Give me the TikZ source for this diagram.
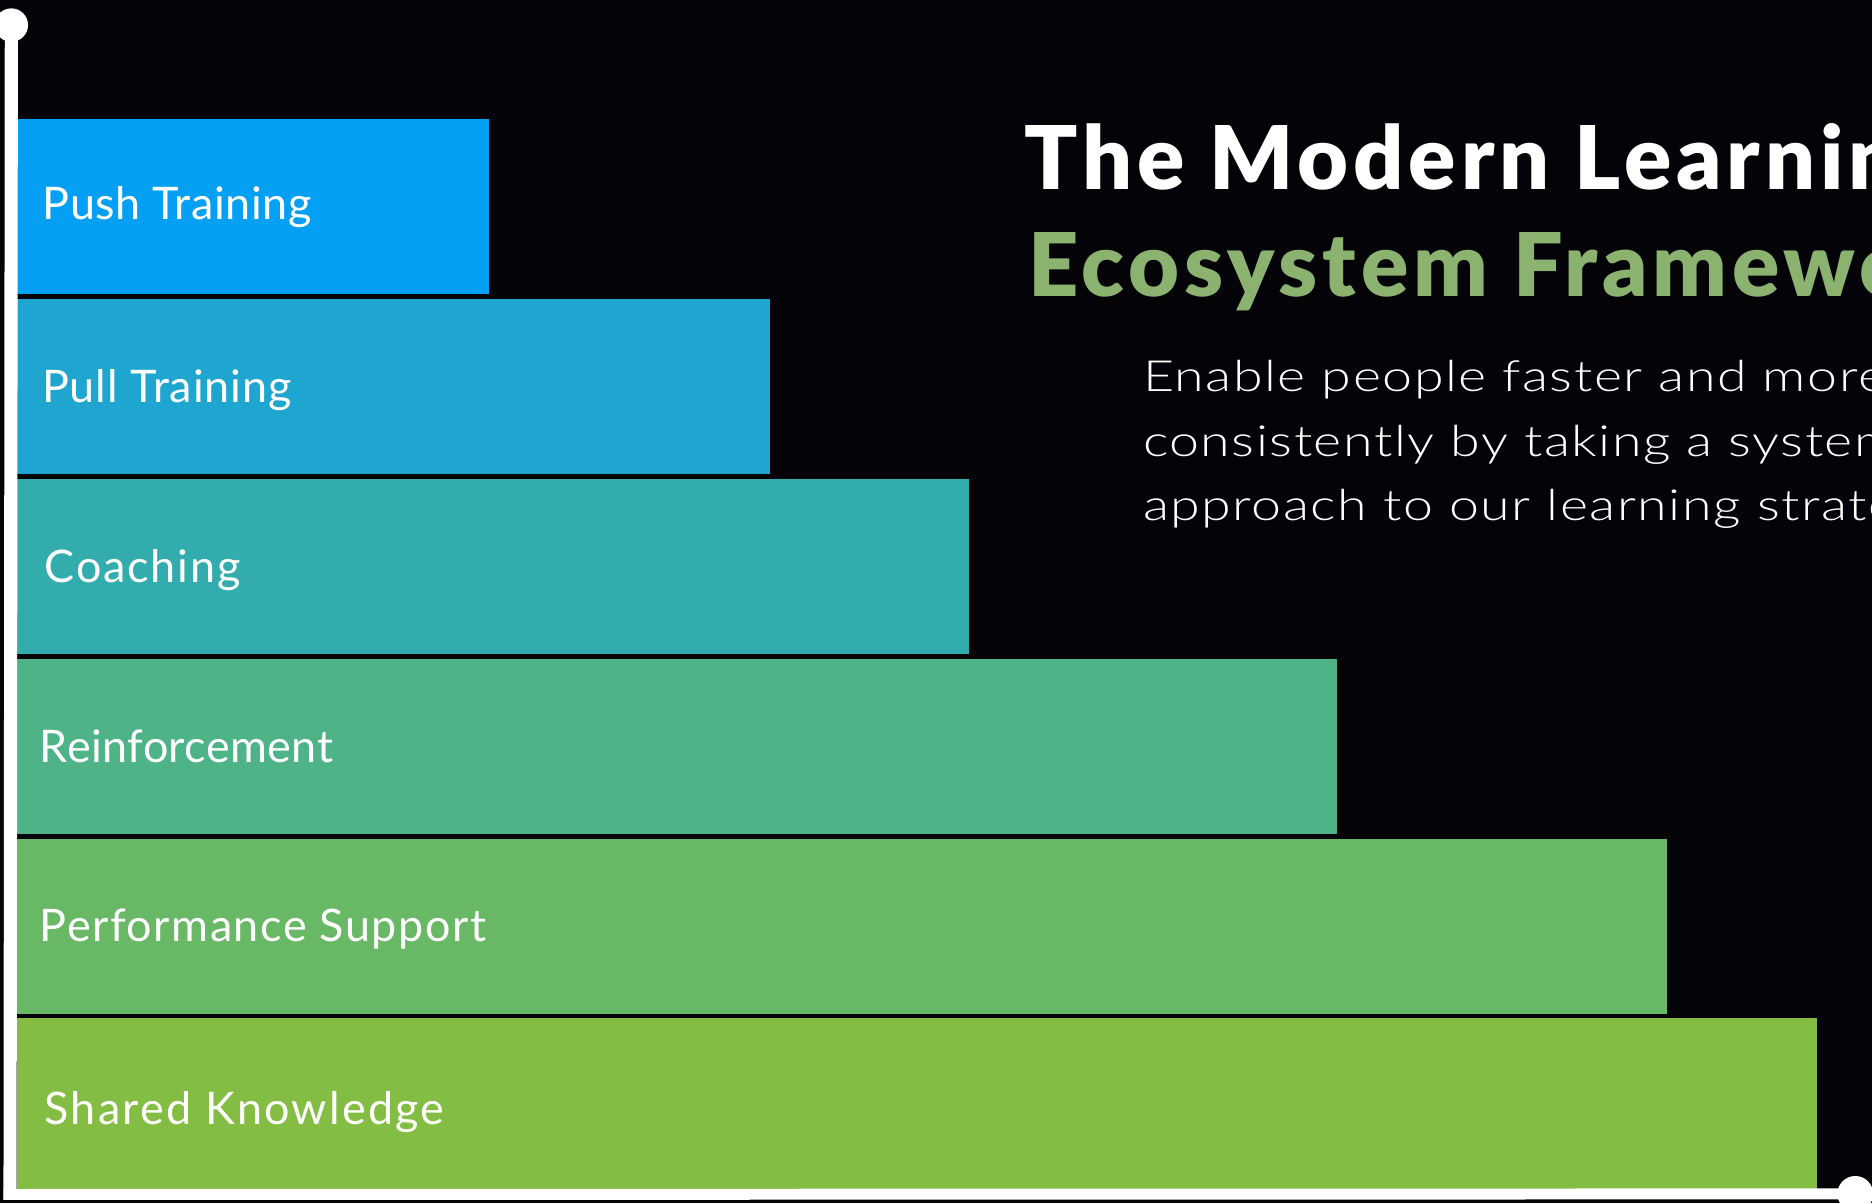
\documentclass[tikz,border=0pt]{standalone}
\usepackage{fontspec}
\setmainfont{Lato}
\newfontfamily\labelfont{Lato}
\newfontfamily\lightfont{Lato}[UprightFont=* Light, FakeStretch=1.25, LetterSpace=3.5]
\newfontfamily\heavyfont{Lato}[UprightFont=* Black, LetterSpace=5.5]
\definecolor{bg}{RGB}{3,3,8}
\definecolor{cPush}{RGB}{5,160,243}
\definecolor{cPull}{RGB}{30,166,208}
\definecolor{cCoach}{RGB}{51,172,174}
\definecolor{cReinf}{RGB}{79,179,136}
\definecolor{cPerf}{RGB}{105,184,102}
\definecolor{cShared}{RGB}{132,189,67}
\definecolor{titlegreen}{RGB}{140,178,112}
\tikzset{
  barlabel/.style={anchor=base west, inner sep=0pt, text=white,
    font=\labelfont\addfontfeature{LetterSpace=#1}\fontsize{18.8pt}{22pt}\selectfont},
  barlabel/.default=3,
  axisline/.style={draw=white, line join=miter},
  axisdot/.style={circle, fill=white, inner sep=0pt, minimum size=14pt},
  titlefont/.style={anchor=base west, inner sep=0pt, font=\heavyfont\fontsize{36.8pt}{44pt}\selectfont},
  subfont/.style={anchor=base west, inner sep=0pt, text=white, font=\lightfont\fontsize{18pt}{27pt}\selectfont}
}
\begin{document}
\begin{tikzpicture}[x=0.5pt, y=-0.5pt]
\useasboundingbox (0,0) rectangle (1568,1008);
\clip (0,0) rectangle (1568,1008);
\fill[bg] (0,0) rectangle (1568,1008);
% bars
\fill[cPush]   (14,100)   rectangle (410,246.5);
\fill[cPull]   (14,250.6) rectangle (645,397);
\fill[cCoach]  (14,401.2) rectangle (812,548);
\fill[cReinf]  (14,551.8) rectangle (1120,698.5);
\fill[cPerf]   (14,702.4) rectangle (1396,849.5);
\fill[cShared] (14,853)   rectangle (1522,997);
% labels
\node[barlabel=1.2] (lPush)   at (35.5,183.5) {Push Training};
\node[barlabel=2.1] (lPull)   at (35,337.5)  {Pull Training};
\node[barlabel=4.1] (lCoach)  at (37,488)    {Coaching};
\node[barlabel=1.0] (lReinf)  at (33,638.5)  {Reinforcement};
\node[barlabel=3.4] (lPerf)   at (33,789)    {Performance Support};
\node[barlabel=5.0] (lShared) at (37,942)    {Shared Knowledge};
% axes
\node[axisdot] (top) at (9.5,21) {};
\node[axisdot, minimum size=15pt] (right) at (1554,1000) {};
\coordinate (corner) at (8.4,1000.5);
\draw[axisline, line width=5.5pt] (top.center) -- (8.4,1005);
\draw[axisline, line width=4.6pt] (3,1000.5) -- (right.center);
% title
\node[titlefont, text=white] (t1) at (858,159) {The Modern Learning};
\node[titlefont, text=titlegreen] (t2) at (861,248.5) {Ecosystem Framework};
\node[subfont] (s1) at (957,328) {Enable people faster and more};
\node[subfont] (s2) at (957,382) {consistently by taking a systemic};
\node[subfont] (s3) at (957,436) {approach to our learning strategy};
\end{tikzpicture}
\end{document}
